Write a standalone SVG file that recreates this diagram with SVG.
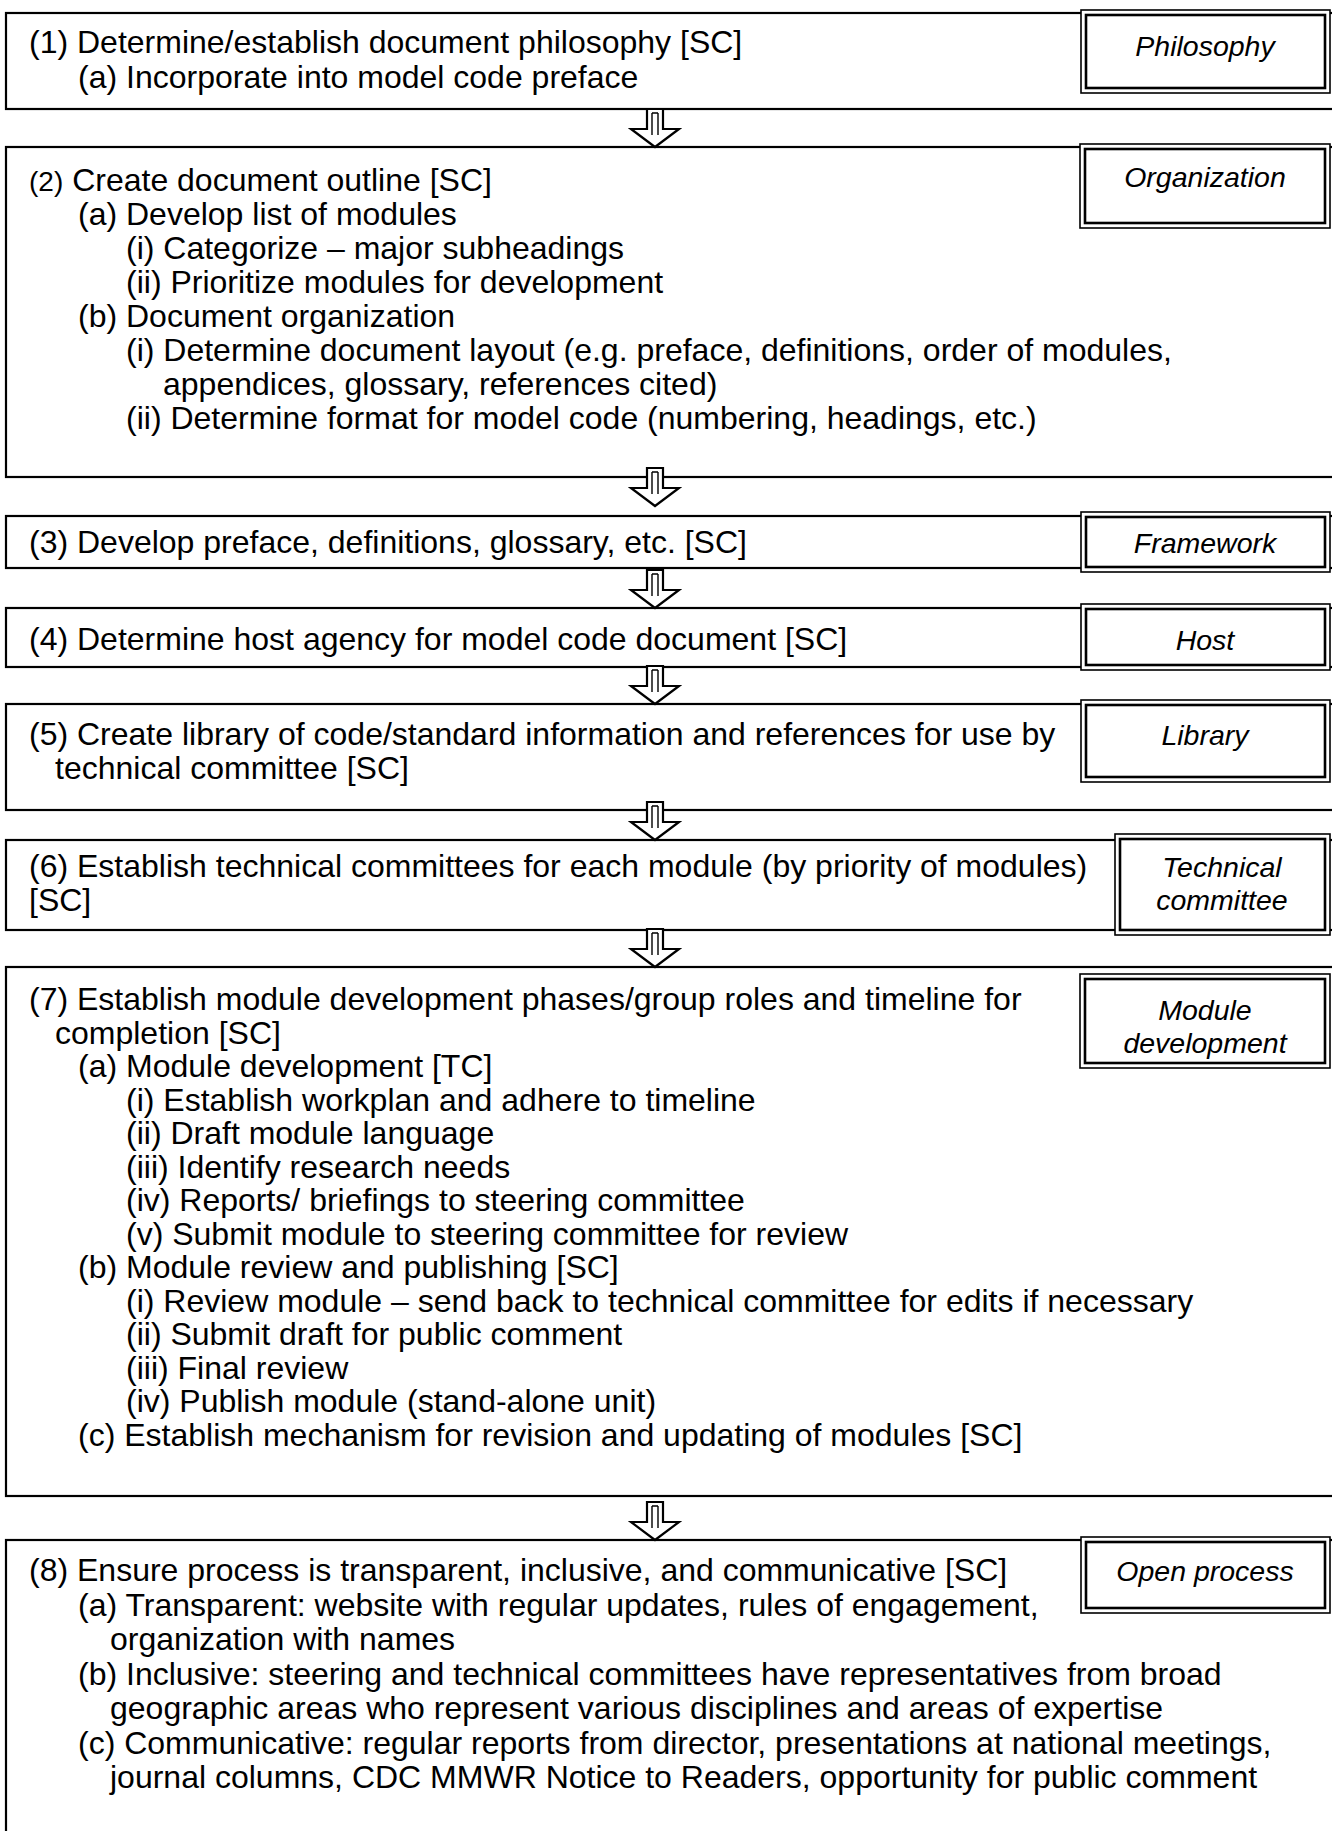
<svg xmlns="http://www.w3.org/2000/svg" width="1332" height="1831" viewBox="0 0 1332 1831">
<style>
.box{fill:#fff;stroke:#000;stroke-width:2.2}
.lo{fill:#fff;stroke:#000;stroke-width:1.6}
.li{fill:none;stroke:#000;stroke-width:2.6}
.t{font-family:"Liberation Sans",Arial,sans-serif;font-size:32px;fill:#000}
.s{font-size:28px}
.l{font-family:"Liberation Sans",Arial,sans-serif;font-size:28.5px;font-style:italic;fill:#000;text-anchor:middle}
.ar{fill:#fff;stroke:#000;stroke-width:2.2;stroke-linejoin:miter}
.ai{fill:none;stroke:#000;stroke-width:1.4}
</style>
<defs>
<g id="arrow">
<path class="ar" d="M-8,-38 H8 V-18 H24 L0,0 L-24,-18 H-8 Z"/>
<path class="ai" d="M-3,-34 V-12 M3,-34 V-12 M-3,-34 H3"/>
</g>
</defs>
<rect width="1332" height="1831" fill="#fff"/>

<g id="node1">
<rect class="box" x="6" y="13" width="1340" height="96"/>
<text class="t" x="29" y="53">(1) Determine/establish document philosophy [SC]</text>
<text class="t" x="78" y="88">(a) Incorporate into model code preface</text>
<rect class="lo" x="1081" y="10" width="249" height="83"/>
<rect class="li" x="1086" y="15" width="239" height="73"/>
<text class="l" x="1205" y="56">Philosophy</text>
</g>

<g id="node2">
<rect class="box" x="6" y="147" width="1340" height="330"/>
<text class="t" x="29" y="191"><tspan class="s">(2)</tspan> Create document outline [SC]</text>
<text class="t" x="78" y="225">(a) Develop list of modules</text>
<text class="t" x="126" y="259">(i) Categorize – major subheadings</text>
<text class="t" x="126" y="293">(ii) Prioritize modules for development</text>
<text class="t" x="78" y="327">(b) Document organization</text>
<text class="t" x="126" y="361">(i) Determine document layout (e.g. preface, definitions, order of modules,</text>
<text class="t" x="163" y="395">appendices, glossary, references cited)</text>
<text class="t" x="126" y="429">(ii) Determine format for model code (numbering, headings, etc.)</text>
<rect class="lo" x="1080" y="144" width="250" height="84"/>
<rect class="li" x="1085" y="149" width="240" height="74"/>
<text class="l" x="1205" y="187">Organization</text>
</g>

<g id="node3">
<rect class="box" x="6" y="516" width="1340" height="52"/>
<text class="t" x="29" y="553">(3) Develop preface, definitions, glossary, etc. [SC]</text>
<rect class="lo" x="1081" y="512" width="249" height="60"/>
<rect class="li" x="1086" y="517" width="239" height="50"/>
<text class="l" x="1205" y="553">Framework</text>
</g>

<g id="node4">
<rect class="box" x="6" y="608" width="1340" height="59"/>
<text class="t" x="29" y="650">(4) Determine host agency for model code document [SC]</text>
<rect class="lo" x="1081" y="604" width="249" height="66"/>
<rect class="li" x="1086" y="609" width="239" height="56"/>
<text class="l" x="1205" y="650">Host</text>
</g>

<g id="node5">
<rect class="box" x="6" y="704" width="1340" height="106"/>
<text class="t" x="29" y="745">(5) Create library of code/standard information and references for use by</text>
<text class="t" x="55" y="779">technical committee [SC]</text>
<rect class="lo" x="1081" y="700" width="249" height="82"/>
<rect class="li" x="1086" y="705" width="239" height="72"/>
<text class="l" x="1205" y="745">Library</text>
</g>

<g id="node6">
<rect class="box" x="6" y="840" width="1340" height="90"/>
<text class="t" x="29" y="877">(6) Establish technical committees for each module (by priority of modules)</text>
<text class="t" x="29" y="911">[SC]</text>
<rect class="lo" x="1115" y="834" width="215" height="101"/>
<rect class="li" x="1120" y="839" width="205" height="91"/>
<text class="l" x="1222" y="877">Technical</text>
<text class="l" x="1222" y="910">committee</text>
</g>

<g id="node7">
<rect class="box" x="6" y="967" width="1340" height="529"/>
<text class="t" x="29" y="1010">(7) Establish module development phases/group roles and timeline for</text>
<text class="t" x="55" y="1043.5">completion [SC]</text>
<text class="t" x="78" y="1077">(a) Module development [TC]</text>
<text class="t" x="126" y="1110.5">(i) Establish workplan and adhere to timeline</text>
<text class="t" x="126" y="1144">(ii) Draft module language</text>
<text class="t" x="126" y="1177.5">(iii) Identify research needs</text>
<text class="t" x="126" y="1211">(iv) Reports/ briefings to steering committee</text>
<text class="t" x="126" y="1244.5">(v) Submit module to steering committee for review</text>
<text class="t" x="78" y="1278">(b) Module review and publishing [SC]</text>
<text class="t" x="126" y="1311.5">(i) Review module – send back to technical committee for edits if necessary</text>
<text class="t" x="126" y="1345">(ii) Submit draft for public comment</text>
<text class="t" x="126" y="1378.5">(iii) Final review</text>
<text class="t" x="126" y="1412">(iv) Publish module (stand-alone unit)</text>
<text class="t" x="78" y="1445.5">(c) Establish mechanism for revision and updating of modules [SC]</text>
<rect class="lo" x="1080" y="974" width="250" height="94"/>
<rect class="li" x="1085" y="979" width="240" height="84"/>
<text class="l" x="1205" y="1020">Module</text>
<text class="l" x="1205" y="1053">development</text>
</g>

<g id="node8">
<rect class="box" x="6" y="1540" width="1340" height="300"/>
<text class="t" x="29" y="1581">(8) Ensure process is transparent, inclusive, and communicative [SC]</text>
<text class="t" x="78" y="1615.5">(a) Transparent: website with regular updates, rules of engagement,</text>
<text class="t" x="110" y="1650">organization with names</text>
<text class="t" x="78" y="1684.5">(b) Inclusive: steering and technical committees have representatives from broad</text>
<text class="t" x="110" y="1719">geographic areas who represent various disciplines and areas of expertise</text>
<text class="t" x="78" y="1753.5">(c) Communicative: regular reports from director, presentations at national meetings,</text>
<text class="t" x="110" y="1788">journal columns, CDC MMWR Notice to Readers, opportunity for public comment</text>
<rect class="lo" x="1081" y="1537" width="249" height="76"/>
<rect class="li" x="1086" y="1542" width="239" height="66"/>
<text class="l" x="1205" y="1581">Open process</text>
</g>

<g id="connectors">
<use href="#arrow" transform="translate(655,147)"/>
<use href="#arrow" transform="translate(655,506)"/>
<use href="#arrow" transform="translate(655,608)"/>
<use href="#arrow" transform="translate(655,704)"/>
<use href="#arrow" transform="translate(655,840)"/>
<use href="#arrow" transform="translate(655,967)"/>
<use href="#arrow" transform="translate(655,1540)"/>
</g>
</svg>
